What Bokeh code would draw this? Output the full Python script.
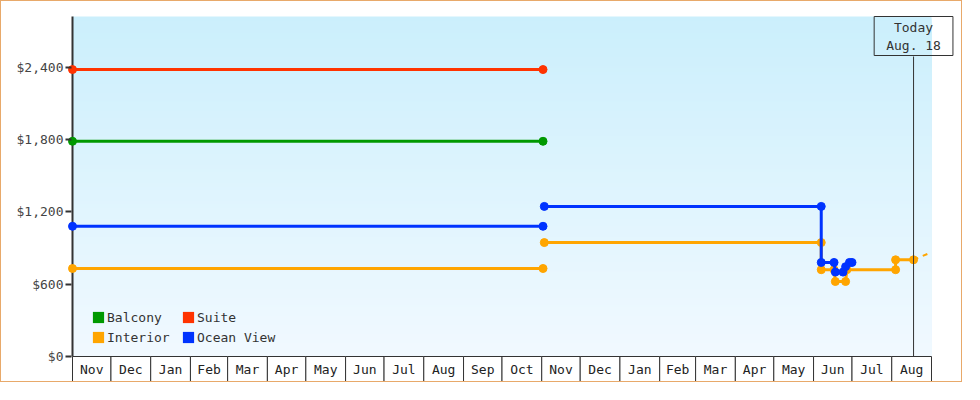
import numpy as np
import pandas as pd
from bokeh.plotting import figure
from bokeh.models import Range1d, FixedTicker, NumeralTickFormatter, Legend, LegendItem, Label
from bokeh.core.properties import value
from bokeh.embed import file_html
from bokeh.resources import INLINE

# ---------------- data ----------------
MONTH_LABELS = ["Nov", "Dec", "Jan", "Feb", "Mar", "Apr", "May", "Jun", "Jul", "Aug", "Sep", "Oct",
                "Nov", "Dec", "Jan", "Feb", "Mar", "Apr", "May", "Jun", "Jul", "Aug"]
FIRST_MONTH = "2023-11-01"
TODAY = "2025-08-18"
TODAY_TEXT = "Today\nAug. 18"
Y_TICKS = [0, 600, 1200, 1800, 2400]
Y_MAX = 2820

SERIES_NAMES = ["Balcony", "Suite", "Interior", "Ocean View"]
SERIES_COLORS = ["#009900", "#ff3300", "#ffa500", "#0033ff"]
LEGEND_ORDER = ["Balcony", "Interior", "Suite", "Ocean View"]

BALCONY_DATES = [["2023-11-01", "2024-11-02"]]
BALCONY_PRICES = [[1785, 1785]]

SUITE_DATES = [["2023-11-01", "2024-11-02"]]
SUITE_PRICES = [[2380, 2380]]

INTERIOR_DATES = [["2023-11-01", "2024-11-02"],
                  ["2024-11-03", "2025-06-07", "2025-06-07", "2025-06-17", "2025-06-18",
                   "2025-06-26", "2025-06-27", "2025-08-04", "2025-08-04", "2025-08-18"]]
INTERIOR_PRICES = [[730, 730],
                   [945, 945, 720, 720, 622, 622, 720, 720, 802, 802]]
INTERIOR_PROJ_DATES = ["2025-08-18", "2025-09-01"]
INTERIOR_PROJ_PRICES = [802, 865]

OCEAN_DATES = [["2023-11-01", "2024-11-02"],
               ["2024-11-03", "2025-06-07", "2025-06-07", "2025-06-17", "2025-06-18",
                "2025-06-24", "2025-06-26", "2025-06-29", "2025-07-01"]]
OCEAN_PRICES = [[1080, 1080],
                [1245, 1245, 780, 780, 700, 700, 745, 780, 780]]

SERIES_DATES = [BALCONY_DATES, SUITE_DATES, INTERIOR_DATES, OCEAN_DATES]
SERIES_PRICES = [BALCONY_PRICES, SUITE_PRICES, INTERIOR_PRICES, OCEAN_PRICES]

# ---------------- layout ----------------
FONT = "DejaVu Sans Mono"
PLOT_H_PX = 340                 # height of the 0..Y_MAX area
PX = Y_MAX / PLOT_H_PX          # data units per pixel
STRIP_PX = 25                   # month strip height
DATA_W_PX = 859                 # width of the dated area
EXTRA_W_PX = 23                 # white space right of the dated area (room for "Today" box)
LEFT_PAD_PX = 5                 # room so the first markers are not clipped

month_starts = pd.date_range(FIRST_MONTH, periods=len(MONTH_LABELS) + 1, freq="MS")
X0, X1 = month_starts[0], month_starts[-1]
X_VIEW_START = X0 - (X1 - X0) * LEFT_PAD_PX / DATA_W_PX
X_VIEW_END = X1 + (X1 - X0) * EXTRA_W_PX / DATA_W_PX

p = figure(width=962, height=382, x_axis_type="datetime", x_axis_location=None,
           x_range=Range1d(X_VIEW_START, X_VIEW_END),
           y_range=Range1d(-(STRIP_PX + 1) * PX, Y_MAX + PX),
           output_backend="svg", toolbar_location=None, title=None,
           min_border_left=71 - LEFT_PAD_PX, min_border_right=9, min_border_top=14, min_border_bottom=1)
p.styles = {"border": "1px solid #e8a96a"}
p.outline_line_color = None
p.grid.visible = False
p.background_fill_color = "white"
p.border_fill_color = "white"

# background gradient (top -> bottom)
top_rgb = np.array([203, 239, 252])
bot_rgb = np.array([241, 249, 255])
N = 170
tops = np.linspace(Y_MAX, Y_MAX / N, N)
fr = (tops - Y_MAX / N / 2) / Y_MAX
cols = ["#%02x%02x%02x" % tuple(np.round(bot_rgb + (top_rgb - bot_rgb) * f).astype(int)) for f in fr]
p.quad(left=[X0] * N, right=[X1] * N, bottom=[0] * N, top=list(tops), fill_color=cols, line_color=None)

# month strip
p.quad(left=list(month_starts[:-1]), right=list(month_starts[1:]),
       bottom=-STRIP_PX * PX, top=0, fill_color="white", line_color="#333333", line_width=1)
mids = [a + (b - a) / 2 for a, b in zip(month_starts[:-1], month_starts[1:])]
p.text(x=mids, y=[-STRIP_PX * PX / 2] * len(mids), text=MONTH_LABELS,
       text_font=value(FONT), text_font_size="13px", text_align="center",
       text_baseline="middle", text_color="#222222")

# y axis line at the first date
p.segment(x0=[X0], y0=[0], x1=[X0], y1=[Y_MAX], line_color="#333333", line_width=2)

# series
swatches = {}
for name, color, dates, prices in zip(SERIES_NAMES, SERIES_COLORS, SERIES_DATES, SERIES_PRICES):
    for d, v in zip(dates, prices):
        xs = pd.to_datetime(d)
        p.line(x=xs, y=v, line_color=color, line_width=3)
        p.scatter(x=xs, y=v, size=8, fill_color=color, line_color=color)
    if name == "Interior":
        p.line(x=pd.to_datetime(INTERIOR_PROJ_DATES), y=INTERIOR_PROJ_PRICES,
               line_color=color, line_width=2, line_dash="5 5")
    # zero-size swatch used only for the legend square
    swatches[name] = p.quad(left=[X0], right=[X0], bottom=[0], top=[0],
                            fill_color=color, line_color=None)

# today marker
today = pd.Timestamp(TODAY)
p.segment(x0=[today], y0=[0], x1=[today], y1=[Y_MAX - 40 * PX], line_color="#333333", line_width=1)
lbl = Label(x=today.value / 1e6, y=Y_MAX, text=TODAY_TEXT, text_font=FONT, text_font_size="13px",
            text_color="#333333", text_align="center", text_baseline="top", anchor="top_center",
            border_line_color="#333333", border_line_width=1, background_fill_color=None,
            padding=(12, 3))
p.add_layout(lbl)

# y axis (ticks + labels; its line is drawn at the first date above)
ax = p.yaxis[0]
ax.ticker = FixedTicker(ticks=Y_TICKS)
ax.formatter = NumeralTickFormatter(format="$0,0")
ax.bounds = (0, Y_MAX)
ax.axis_line_color = None
ax.major_tick_line_color = "#333333"
ax.major_tick_line_width = 2
ax.major_tick_out = 2
ax.major_tick_in = 4
ax.minor_tick_line_color = None
ax.major_label_text_font = FONT
ax.major_label_text_font_size = "13px"
ax.major_label_text_color = "#444444"
ax.major_label_standoff = 2

legend = Legend(items=[LegendItem(label=n, renderers=[swatches[n]]) for n in LEGEND_ORDER],
                ncols=2, location=(19 + LEFT_PAD_PX, 35), padding=0, margin=0, spacing=0,
                glyph_width=14, glyph_height=14, label_standoff=2, label_width=74, label_height=20,
                label_text_font=FONT, label_text_font_size="13px", label_text_color="#333333",
                border_line_color=None, background_fill_alpha=0)
p.add_layout(legend)

open("out.html", "w").write(file_html(p, INLINE))
